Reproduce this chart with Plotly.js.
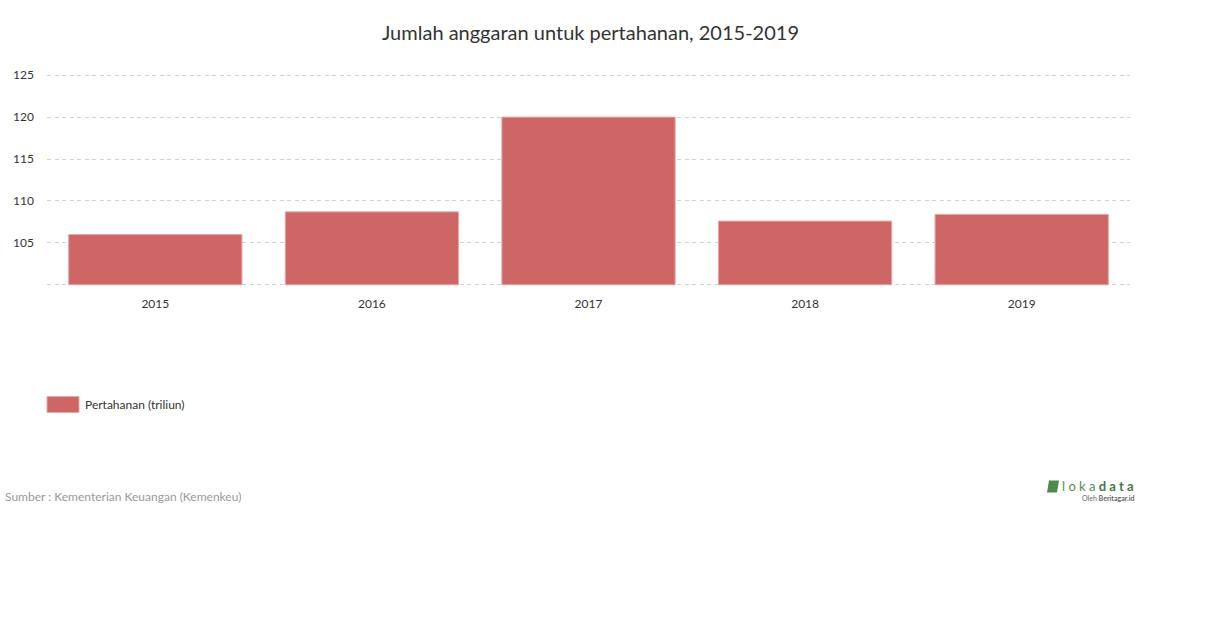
<!DOCTYPE html>
<html>
<head>
<meta charset="utf-8">
<script src="https://cdn.plot.ly/plotly-3.0.1.min.js"></script>
<style>
  html, body { margin: 0; padding: 0; background: #fff; }
  #chart { width: 1210px; height: 628px; }
</style>
</head>
<body>
<div id="chart"></div>
<script>
const years = ['2015', '2016', '2017', '2018', '2019'];
const pertahanan = [106.0, 108.7, 120.0, 107.6, 108.4];
const yTicks = [100, 105, 110, 115, 120, 125];
const yTickText = ['', '105', '110', '115', '120', '125'];
const seriesName = 'Pertahanan (triliun)';
const barColor = '#cd6664';
const barBase = 100;

const FONT = 'Lato, "Open Sans", sans-serif';

// pixel -> paper helpers (plot area: x 47..1130, y 70.8..289.2; 100 at y=285, 125 at y=75)
const PT = 70.8, PB = 289.2;
const px = (x) => (x - 47) / 1083;
const py = (y) => (PB - y) / (PB - PT);

Plotly.newPlot('chart', [{
  type: 'bar',
  name: seriesName,
  x: years,
  base: barBase,
  y: pertahanan.map((v) => v - barBase),
  customdata: pertahanan,
  hovertemplate: '%{x}: %{customdata}<extra></extra>',
  marker: { color: barColor, line: { color: '#e4a9a8', width: 1 } },
  showlegend: false,
}], {
  width: 1210, height: 628,
  paper_bgcolor: '#fff', plot_bgcolor: '#fff',
  font: { family: FONT, color: '#333', size: 12 },
  title: {
    text: 'Jumlah anggaran untuk pertahanan, 2015-2019',
    font: { family: FONT, size: 20, color: '#333' },
    x: 0.488, xanchor: 'center', y: 0.947, yanchor: 'middle',
  },
  margin: { l: 47, r: 80, t: PT, b: 628 - PB },
  bargap: 0.2,
  xaxis: {
    showgrid: false, zeroline: false, showline: false,
    ticks: '', tickfont: { size: 12, color: '#333' },
    ticklabelstandoff: 6,
  },
  yaxis: {
    range: [99.5, 125.5],
    tickvals: yTicks, ticktext: yTickText,
    showgrid: true, gridcolor: '#d2d2d2', griddash: '4px,3.5px', gridwidth: 1,
    zeroline: false, showline: false, ticks: '',
    tickfont: { size: 12, color: '#333' },
    ticklabelstandoff: 12,
  },
  showlegend: false,
  shapes: [
    // legend swatch
    { type: 'rect', xref: 'paper', yref: 'paper',
      x0: px(47), x1: px(79), y0: py(413), y1: py(397),
      fillcolor: barColor, line: { color: '#e4a9a8', width: 1 } },
    // lokadata leaf icon
    { type: 'path', xref: 'paper', yref: 'paper',
      path: `M ${px(1049)} ${py(481)} L ${px(1059)} ${py(481)} L ${px(1057)} ${py(493)} L ${px(1047)} ${py(493)} Z`,
      fillcolor: '#4e8a4b', line: { width: 0 } },
  ],
  annotations: [
    {
      text: seriesName,
      xref: 'paper', yref: 'paper', x: px(83), xanchor: 'left',
      y: py(405), yanchor: 'middle', showarrow: false,
      font: { size: 12, color: '#333' },
    },
    {
      text: 'Sumber : Kementerian Keuangan (Kemenkeu)',
      xref: 'paper', yref: 'paper', x: px(3), xanchor: 'left',
      y: py(497), yanchor: 'middle', showarrow: false,
      font: { size: 12, color: '#999' },
    },
    {
      text: '<span style="color:#5b8a55">l o k a </span><b style="color:#3f7a3f">d a t a</b>',
      xref: 'paper', yref: 'paper', x: px(1136), xanchor: 'right',
      y: py(487), yanchor: 'middle', showarrow: false,
      font: { size: 13, color: '#4a8a4a' },
    },
    {
      text: 'Oleh <b>Beritagar.id</b>',
      xref: 'paper', yref: 'paper', x: px(1136), xanchor: 'right',
      y: py(499), yanchor: 'middle', showarrow: false,
      font: { size: 7, color: '#666' },
    },
  ],
}, { displayModeBar: false, responsive: false });
</script>
</body>
</html>
